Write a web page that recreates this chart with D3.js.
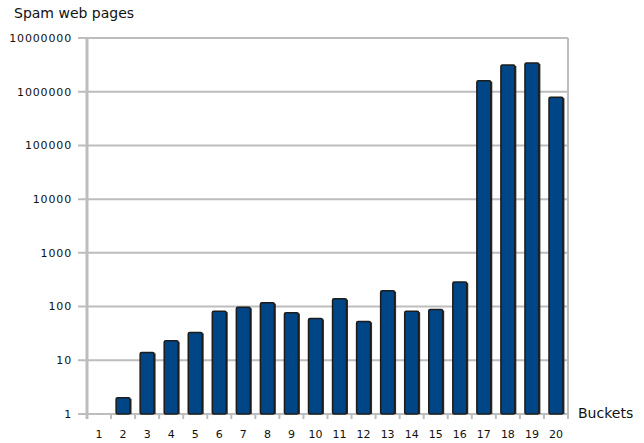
<!DOCTYPE html>
<html><head><meta charset="utf-8">
<script src="https://cdn.jsdelivr.net/npm/d3@7"></script>
<style>body{margin:0;background:#fff}svg{display:block}</style>
</head><body>
<script>
const categories = ["1","2","3","4","5","6","7","8","9","10","11","12","13","14","15","16","17","18","19","20"];
const values = [0,2,14,23,33,82,97,118,77,60,140,53,198,82,88,287,1600000,3150000,3440000,790000];
const yTicks = [1,10,100,1000,10000,100000,1000000,10000000];
const yLabels = ["1","10","100","1000","10000","100000","1000000","10000000"];

const W=644,H=443;
const m={left:87,right:76,top:38,bottom:29};
const svg=d3.select("body").append("svg").attr("width",W).attr("height",H);
const x=d3.scaleBand().domain(categories).range([m.left,W-m.right]).paddingInner(0.42).paddingOuter(0.21);
const xb=d3.scaleBand().domain(categories).range([m.left,W-m.right]);
const y=d3.scaleLog().domain([1,1e7]).range([H-m.bottom,m.top]);
const grid="#bdbdbd";
const font="DejaVu Sans, sans-serif";

// gridlines
svg.append("g").selectAll("line").data(yTicks).join("line")
 .attr("x1",m.left-9).attr("x2",W-m.right).attr("y1",d=>y(d)).attr("y2",d=>y(d))
 .attr("stroke",grid).attr("stroke-width",2);
// right border
svg.append("line").attr("x1",W-m.right).attr("x2",W-m.right).attr("y1",m.top).attr("y2",H-m.bottom).attr("stroke",grid).attr("stroke-width",2);
// x ticks
svg.append("g").selectAll("line").data(categories.concat(["end"])).join("line")
 .attr("x1",d=>d==="end"?W-m.right:xb(d)).attr("x2",d=>d==="end"?W-m.right:xb(d))
 .attr("y1",H-m.bottom).attr("y2",H-m.bottom+5).attr("stroke",grid).attr("stroke-width",2);

// bars
const data=categories.map((c,i)=>({c,v:values[i]})).filter(d=>d.v>1);
svg.append("g").selectAll("rect.sh").data(data).join("rect")
 .attr("x",d=>x(d.c)+1.5).attr("width",x.bandwidth()).attr("y",d=>y(d.v)+1).attr("height",d=>y(1)-y(d.v)-1)
 .attr("fill","#333");
svg.append("g").selectAll("rect.b").data(data).join("rect")
 .attr("x",d=>x(d.c)).attr("width",x.bandwidth()).attr("y",d=>y(d.v)).attr("height",d=>y(1)-y(d.v))
 .attr("fill","#004586").attr("stroke","#1c1c1c").attr("stroke-width",1.5).attr("rx",1.5);

// left axis line
svg.append("line").attr("x1",m.left).attr("x2",m.left).attr("y1",m.top).attr("y2",H-m.bottom+5).attr("stroke",grid).attr("stroke-width",3);

// y labels
svg.append("g").selectAll("text").data(yTicks).join("text")
 .attr("x",72).attr("y",d=>y(d)).attr("dy","0.35em").attr("text-anchor","end")
 .attr("font-family",font).attr("font-size",11).attr("letter-spacing",0.85).attr("fill","#111")
 .text((d,i)=>yLabels[i]);
// x labels
svg.append("g").selectAll("text").data(categories).join("text")
 .attr("x",d=>xb(d)+xb.bandwidth()/2).attr("y",438).attr("text-anchor","middle")
 .attr("font-family",font).attr("font-size",11).attr("fill","#111").text(d=>d);
// titles
svg.append("text").attr("x",14).attr("y",18).attr("font-family",font).attr("font-size",14).attr("fill","#111").text("Spam web pages");
svg.append("text").attr("x",578).attr("y",418).attr("font-family",font).attr("font-size",14).attr("fill","#111").text("Buckets");
</script>
</body></html>
